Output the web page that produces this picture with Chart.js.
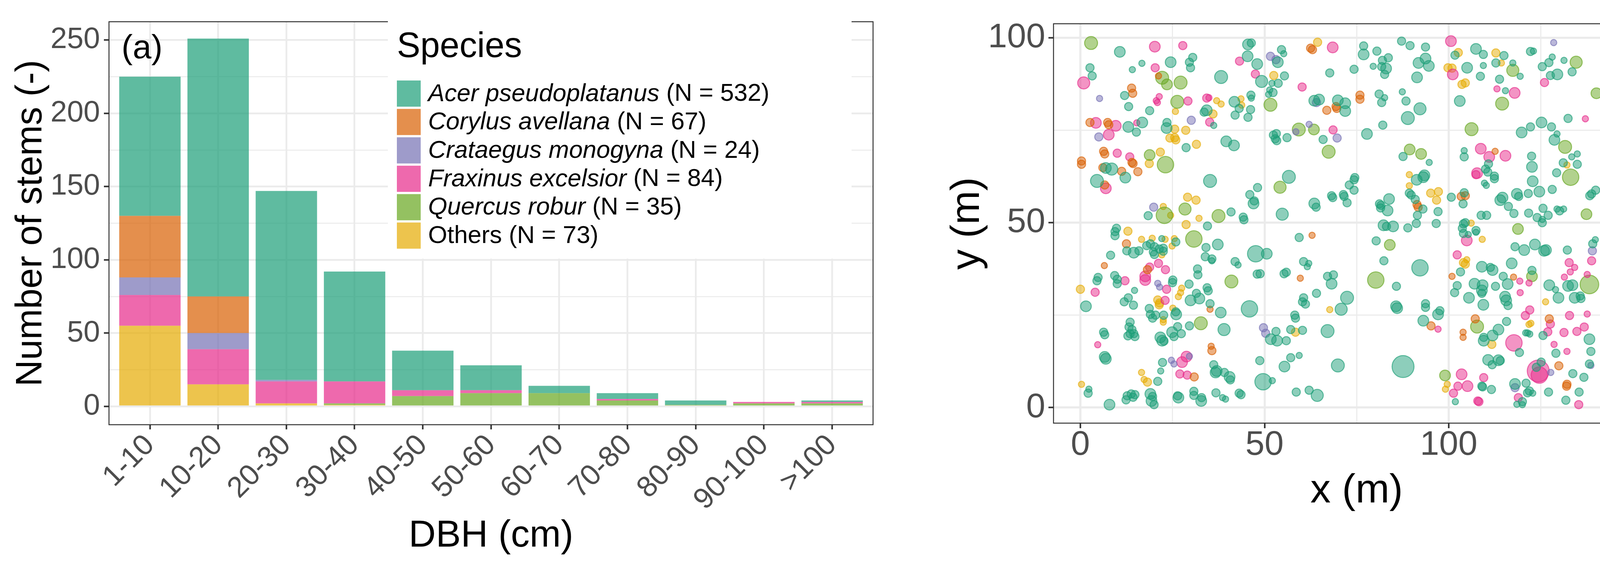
<!DOCTYPE html>
<html>
<head>
<meta charset="utf-8">
<script src="https://cdn.jsdelivr.net/npm/chart.js@4.4.1/dist/chart.umd.min.js"></script>
<style>
html, body { margin: 0; padding: 0; background: #fff; }
body { width: 4285px; height: 1464px; position: relative; overflow: hidden; }
#wrapA { position: absolute; left: 0; top: 0; width: 2261px; height: 1464px; }
#wrapB { position: absolute; left: 2380px; top: 0; width: 1905px; height: 1464px; }
</style>
</head>
<body>
<div id="wrapA"><canvas id="stemsChart"></canvas></div>
<div id="wrapB"><canvas id="mapChart"></canvas></div>
<script>
// ---- data (a): number of stems per DBH class and species
const dbhClasses = ['1-10', '10-20', '20-30', '30-40', '40-50', '50-60', '60-70', '70-80', '80-90', '90-100', '>100'];
const species = ['Acer pseudoplatanus', 'Corylus avellana', 'Crataegus monogyna', 'Fraxinus excelsior', 'Quercus robur', 'Others'];
const speciesN = [532, 67, 24, 84, 35, 73];
const stemsAcer      = [95, 176, 129, 75, 27, 17, 5, 4, 3, 0, 1];
const stemsCorylus   = [42, 25, 0, 0, 0, 0, 0, 0, 0, 0, 0];
const stemsCrataegus = [12, 11, 1, 0, 0, 0, 0, 0, 0, 0, 0];
const stemsFraxinus  = [21, 24, 15, 15, 4, 2, 0, 1, 0, 1, 1];
const stemsQuercus   = [0, 0, 0, 1, 7, 9, 9, 4, 1, 2, 2];
const stemsOthers    = [55, 15, 2, 1, 0, 0, 0, 0, 0, 0, 0];
const stemTicks = [0, 25, 50, 75, 100, 125, 150, 175, 200, 225, 250];

// ---- data (b): stem map, [x (m), y (m), DBH (cm)]
const treesAcer = [
[45.5,98.2,18],[46.4,98.6,8],[54.6,96.8,8],[55.2,95.7,3],[10.7,96.2,18],[2.6,91.9,8],[3.2,89.7,8],[14.1,91.4,3],[16.7,93.1,3],[24.5,93.4,18],
[30.5,94.7,8],[29.6,93.4,8],[29.9,91.9,8],[38.2,89.4,30],[45.4,95.0,18],[48.0,92.9,18],[53.6,93.4,18],[55.4,89.7,8],[49.2,88.2,25],[52.0,87.7,3],
[53.7,87.7,8],[67.7,90.5,8],[74.3,91.5,8],[12.0,84.4,8],[13.1,81.4,8],[18.8,80.3,8],[34.3,80.4,18],[33.6,79.9,8],[41.8,82.7,18],[43.1,80.9,8],
[46.2,80.6,8],[42.0,79.1,8],[45.5,78.5,8],[46.3,84.5,8],[46.4,83.7,3],[51.4,85.9,3],[52.3,85.2,8],[51.1,84.7,3],[63.5,83.0,18],[64.8,83.3,18],
[69.9,83.1,18],[71.9,82.3,18],[71.9,80.2,18],[13.0,75.9,18],[16.8,77.1,18],[15.2,74.5,8],[23.5,77.1,8],[23.4,75.6,18],[36.2,76.3,3],[28.7,70.3,8],
[39.6,72.0,18],[41.7,70.9,18],[52.4,73.7,8],[53.2,74.1,8],[52.9,72.7,8],[53.3,72.2,8],[56.1,73.0,8],[65.9,72.5,8],[6.9,64.8,18],[8.5,64.5,25],
[4.5,61.3,30],[12.2,62.2,18],[35.2,61.3,30],[56.6,62.4,30],[48.1,59.5,8],[46.0,57.6,8],[47.2,55.9,8],[47.0,55.2,18],[74.5,62.2,8],[74.3,61.6,8],
[73.0,60.2,8],[74.3,58.8,8],[68.2,57.3,8],[68.5,56.8,8],[71.4,57.6,8],[71.6,57.1,8],[72.4,55.4,8],[63.5,55.2,18],[64.0,54.2,8],[18.4,51.9,8],
[40.9,52.9,8],[44.2,51.5,8],[44.4,50.8,8],[54.8,52.3,25],
[87.2,99.1,8],[89.5,97.9,8],[93.7,97.5,8],[76.9,97.8,8],[76.9,95.5,18],[80.5,96.4,8],[101.7,95.3,8],[107.4,97.0,18],[109.4,95.5,8],[115.0,95.2,8],
[122.2,96.3,8],[123.0,96.4,3],[128.1,94.8,3],[127.2,93.3,8],[125.4,92.2,8],[131.3,93.9,3],[133.5,90.8,8],[127.6,89.8,8],[129.5,90.1,18],[117.4,93.2,3],
[119.4,89.6,3],[112.8,93.2,8],[109.4,92.5,3],[108.6,89.6,8],[113.8,88.8,8],[105.0,91.9,18],[115.4,85.7,3],[79.5,92.3,3],[82.0,93.9,8],[81.8,92.2,8],
[83.0,91.7,18],[82.6,90.1,8],[83.6,94.6,8],[91.8,93.2,18],[93.7,94.4,18],[94.6,92.4,18],[91.4,89.3,18],[81.1,84.8,8],[82.6,83.8,3],[81.8,82.5,8],
[87.4,85.4,3],[88.4,82.9,8],[92.2,80.8,25],[88.9,78.3,30],[103.0,82.9,18],[82.1,76.4,8],[77.8,74.0,18],[132.4,78.2,8],[125.2,77.1,18],[122.2,75.9,8],
[127.9,75.9,8],[119.8,74.4,18],[129.4,74.0,3],[128.7,72.4,18],[133.4,67.8,3],[134.9,68.6,3],[131.1,66.2,8],[134.9,65.8,8],[129.3,63.5,8],[122.8,61.2,18],
[122.5,68.0,8],[122.6,65.1,18],[128.1,59.0,8],[124.6,58.4,18],[121.6,57.9,8],[118.5,57.8,18],[119.0,57.1,8],[138.8,57.8,8],[139.9,58.8,8],[138.3,57.3,8],
[114.6,56.8,18],[114.0,56.1,18],[116.2,54.4,8],[117.7,52.5,8],[121.7,52.6,8],[124.0,51.4,8],[125.4,50.9,3],[125.6,53.9,8],[127.0,52.0,8],[129.4,53.7,3],
[131.2,53.7,3],[130.1,53.2,8],[108.8,52.0,8],[110.3,52.0,8],[104.2,69.5,3],[104.2,67.8,8],[110.8,65.9,8],[110.0,64.5,8],[110.6,63.7,8],[112.4,62.6,8],
[112.4,61.9,8],[109.7,60.7,3],[110.2,60.1,3],[104.2,58.1,8],[100.7,56.9,8],[103.9,55.1,8],[93.4,62.8,18],[93.1,62.3,18],[91.3,61.6,18],[87.6,67.9,8],
[94.7,66.3,3],[89.3,58.0,8],[89.8,57.5,8],[90.9,56.3,8],[93.0,53.7,8],[97.1,53.0,8],[91.5,52.0,8],[81.2,55.1,8],[81.6,54.7,8],[83.8,56.4,18],
[83.4,53.3,18],[81.5,54.0,8],
[9.8,48.5,8],[9.4,47.6,8],[9.4,46.5,8],[22.1,45.7,3],[25.9,44.8,8],[12.6,42.4,8],[14.5,41.9,18],[15.9,42.4,8],[18.0,43.8,8],[19.0,44.3,8],
[20.1,43.5,8],[19.8,42.1,8],[20.1,41.4,8],[21.4,42.9,8],[22.5,43.1,8],[22.5,42.3,8],[8.2,41.2,8],[34.5,49.1,8],[34.1,43.3,8],[37.3,44.1,18],
[33.9,40.8,8],[35.7,40.2,8],[35.7,39.7,3],[47.6,41.6,55],[50.6,41.6,18],[42.0,39.5,8],[42.8,38.6,3],[60.6,39.5,8],[62.0,39.0,3],[61.6,38.1,3],
[59.4,46.0,8],[31.8,37.5,8],[31.9,35.9,8],[4.8,35.2,8],[4.5,34.3,8],[9.3,35.7,8],[10.0,34.7,8],[10.0,33.5,8],[25.1,34.5,8],[25.0,33.8,8],
[29.5,33.4,8],[48.0,36.1,8],[48.8,36.2,8],[55.3,36.2,8],[55.9,36.6,8],[67.1,35.5,8],[68.7,35.9,8],[68.2,33.5,18],[14.7,31.7,3],[34.4,32.4,8],
[34.7,31.6,8],[31.5,30.9,8],[32.3,29.5,18],[29.9,29.0,18],[13.0,29.7,8],[11.9,28.6,8],[14.4,27.7,8],[1.5,27.4,18],[45.9,26.7,55],[35.2,28.1,8],
[38.1,25.7,18],[25.9,25.9,8],[26.0,25.2,18],[18.7,26.8,8],[19.0,25.2,8],[19.6,24.2,8],[20.4,25.0,8],[22.6,25.0,8],[72.4,29.7,30],[70.8,26.6,25],
[64.1,30.9,8],[60.6,29.7,8],[60.3,28.6,8],[61.1,28.0,8],[58.2,25.0,8],[58.4,24.2,8],[13.5,23.1,8],[13.2,21.8,8],[14.0,21.1,8],[14.5,20.0,8],
[13.5,20.0,8],[12.9,19.4,8],[14.8,19.2,8],[6.3,20.4,8],[6.6,19.7,8],[26.4,21.9,8],[29.6,22.1,8],[24.9,20.4,18],[27.4,20.0,8],[25.4,19.2,8],
[21.7,19.0,18],[22.2,18.1,18],[22.7,18.0,8],[39.0,21.1,25],[53.1,20.6,8],[51.7,18.5,18],[53.4,18.1,18],[55.9,18.1,8],[57.1,21.1,8],[60.3,20.9,8],
[67.1,20.7,30],[6.6,13.7,18],[6.9,13.2,18],[22.3,12.2,8],[21.8,9.9,3],[36.2,11.6,8],[37.0,9.9,18],[36.7,9.5,18],[39.1,9.5,8],[40.5,8.3,18],
[40.7,7.5,8],[21.0,7.1,8],[48.7,12.7,8],[55.4,11.1,18],[57.1,13.5,8],[59.4,14.1,3],[69.9,11.4,30],[49.6,7.0,55],[52.1,7.3,3],[2.3,5.0,3],
[2.1,3.9,8],[58.6,4.2,8],[62.1,4.7,8],[64.3,3.3,25],[13.8,3.7,8],[12.7,3.2,8],[12.4,2.1,8],[14.3,2.8,8],[14.8,3.5,8],[7.9,0.8,18],
[19.0,3.7,18],[19.6,3.0,8],[19.3,1.8,18],[20.0,0.8,8],[26.4,3.2,8],[26.6,2.7,18],[30.8,4.4,8],[30.8,3.3,8],[32.9,2.7,8],[32.8,1.8,18],
[36.8,4.0,8],[38.6,2.7,3],[39.4,2.3,3],[43.1,3.9,8],[43.6,3.5,8],
[82.3,49.3,18],[83.1,49.0,8],[84.9,49.0,18],[88.9,48.6,8],[91.2,49.8,8],[96.6,49.8,8],[104.0,49.7,8],[104.5,50.0,8],[103.7,48.5,8],[104.0,47.1,8],
[105.3,46.8,3],[107.4,47.9,8],[107.4,47.4,3],[125.4,50.0,8],[80.3,45.1,8],[118.0,43.5,8],[120.5,42.6,18],[123.4,44.1,18],[125.9,42.4,18],[126.4,42.6,18],
[132.2,42.6,8],[139.1,44.3,8],[139.8,45.4,3],[82.4,39.7,8],[92.2,37.8,55],[85.8,32.8,8],[117.1,39.0,18],[109.0,38.1,18],[111.3,37.9,8],[111.9,37.2,18],
[103.2,36.7,8],[114.8,35.5,8],[122.6,37.1,8],[102.3,33.0,8],[101.6,31.1,8],[107.0,33.5,18],[109.2,33.1,18],[109.0,31.7,18],[109.0,30.9,8],[112.7,32.8,8],
[116.0,33.4,18],[127.3,33.1,18],[129.0,31.9,3],[132.4,32.9,18],[133.6,33.1,18],[105.5,29.7,18],[109.4,27.8,18],[115.3,30.0,18],[116.1,27.6,8],[115.6,29.0,18],
[129.8,29.7,18],[134.2,29.7,18],[135.7,30.2,8],[135.9,29.5,8],[85.7,27.4,18],[86.0,26.9,18],[93.7,28.1,8],[93.7,27.1,8],[97.6,26.2,8],[97.1,25.2,18],
[93.1,23.5,18],[115.7,23.3,8],[113.5,21.1,18],[111.9,19.5,18],[109.5,19.0,8],[109.5,18.1,18],[121.4,20.2,3],[122.0,19.9,3],[120.9,20.2,3],[125.6,19.5,8],
[138.2,18.5,18],[119.2,14.9,8],[129.1,14.7,8],[138.6,15.2,8],[87.6,11.1,110],[110.7,12.9,18],[113.5,12.8,18],[111.8,11.6,8],[114.0,12.7,8],[125.1,12.3,8],
[123.8,10.9,8],[138.2,11.8,8],[133.7,9.2,8],[136.7,8.2,8],[101.8,1.6,3],[109.0,5.8,8],[109.2,5.6,8],[111.6,4.9,8],[118.0,6.4,18],[121.0,6.6,8],
[121.9,4.5,8],[121.4,4.0,8],[122.8,3.9,3],[120.0,1.6,8],[118.5,0.9,3],[120.0,0.8,3],[127.1,4.2,8],[135.4,4.2,8],[131.8,2.0,8]
];
const treesCorylus = [
[62.5,97.2,8],[63.0,96.8,8],[21.2,89.7,3],[13.9,86.4,8],[14.2,85.0,8],[66.9,80.4,8],[69.4,81.4,8],[69.6,80.9,8],[2.6,77.1,8],[7.4,77.1,8],
[7.7,76.5,8],[6.3,69.3,8],[6.6,68.6,8],[14.0,66.3,8],[14.3,66.0,8],[0.3,66.7,8],[0.3,65.8,8],[6.1,64.9,8],[11.2,63.9,8],[15.6,63.8,8],
[6.6,60.2,8],[75.9,84.5,8],[75.9,83.4,8],[112.6,69.3,3],[103.4,57.1,8],[104.5,57.3,8],[91.4,54.9,8],[91.7,54.2,8],[12.5,44.3,8],[62.9,46.6,3],
[6.5,38.4,3],[18.2,37.3,8],[59.7,35.0,3],[35.2,26.6,3],[35.5,16.6,3],[35.7,15.4,8],[30.9,8.3,8],[100.9,35.5,3],[117.6,35.3,3],[95.2,22.1,8],
[107.2,24.0,8],[127.3,24.0,8],[103.9,20.4,3],[103.9,19.0,3],[129.9,11.3,8],[132.1,6.3,8],[132.0,5.8,8]
];
const treesCrataegus = [
[51.6,95.0,8],[53.1,94.1,8],[5.2,83.6,3],[64.1,82.5,8],[30.1,77.7,8],[5.0,73.2,8],[58.5,74.6,3],[62.1,76.6,3],[69.7,72.9,8],[19.9,54.2,8],
[128.5,98.7,3],[21.0,33.6,3],[21.5,32.6,3],[29.6,13.9,3],[24.7,12.8,3],[25.4,11.8,3],[49.7,21.6,8],[50.3,20.1,8],[139.0,42.4,8],[127.7,9.5,3],
[138.6,11.4,3],[118.0,5.4,8]
];
const treesFraxinus = [
[20.2,97.6,18],[27.8,97.9,8],[68.5,97.4,18],[0.9,87.8,25],[20.3,91.9,8],[43.2,93.7,8],[47.5,90.2,8],[60.2,86.7,8],[21.4,84.1,3],[20.6,83.0,3],
[20.9,82.5,3],[29.2,82.9,8],[34.3,83.7,8],[34.9,83.8,3],[4.2,77.0,18],[9.6,76.2,18],[15.3,77.0,3],[7.7,73.8,18],[35.1,77.2,8],[68.6,75.1,8],
[10.0,68.8,8],[13.4,67.8,8],[6.9,59.3,18],[100.6,99.1,18],[126.0,87.9,8],[101.1,90.1,18],[113.1,86.2,3],[117.9,85.1,18],[137.1,78.1,3],[108.7,70.0,18],
[111.0,67.8,18],[115.4,68.1,18],[107.7,63.4,18],[107.4,63.0,8],[21.2,39.0,8],[23.1,37.3,8],[18.8,38.0,8],[17.6,35.5,18],[17.6,34.5,18],[12.1,34.3,8],
[23.4,32.0,8],[4.0,31.2,8],[23.0,29.0,8],[4.7,17.0,3],[28.8,13.8,18],[27.6,12.3,18],[27.0,9.1,8],[29.0,8.8,8],[104.9,45.2,18],[102.3,41.3,8],
[119.3,34.2,3],[121.8,33.7,3],[119.4,31.1,3],[137.6,36.0,3],[131.4,35.3,3],[133.0,36.7,3],[134.2,37.9,3],[132.7,39.2,8],[138.8,39.7,8],[97.1,21.2,3],
[122.0,26.4,8],[120.8,24.9,8],[132.8,24.9,8],[137.6,25.3,3],[127.6,22.6,8],[126.9,20.5,8],[131.3,20.3,8],[134.8,20.6,8],[136.8,21.8,8],[117.7,17.5,55],
[128.6,17.1,3],[132.1,15.2,3],[124.3,9.9,110],[124.6,8.8,55],[103.5,9.0,18],[109.5,8.1,8],[102.5,5.8,8],[105.1,5.8,18],[101.3,3.9,8],[107.9,1.8,8],
[108.2,1.6,8],[118.9,2.7,8],[135.3,0.8,8]
];
const treesQuercus = [
[2.9,98.6,30],[22.2,89.2,30],[23.5,87.4,18],[27.2,87.9,30],[26.3,82.7,30],[51.6,81.9,30],[59.3,75.2,30],[63.4,75.2,18],[67.4,69.2,30],[18.8,68.3,18],
[23.1,65.7,55],[54.2,59.6,25],[28.4,53.7,25],[22.8,52.0,55],[37.5,51.8,30],[134.6,93.4,25],[117.4,91.2,25],[140.1,85.0,18],[114.5,82.2,30],[106.2,75.3,30],
[131.6,70.5,30],[133.1,62.3,55],[89.4,69.8,18],[92.5,68.6,18],[137.4,52.3,18],[30.8,45.6,55],[41.0,34.1,30],[32.7,22.8,30],[118.8,48.3,18],[84.0,44.0,18],
[80.2,34.5,55],[122.6,35.5,18],[138.2,33.3,75],[107.7,21.9,30],[99.0,8.7,18]
];
const treesOthers = [
[64.4,98.8,8],[52.5,89.8,8],[25.8,80.1,3],[37.0,83.0,3],[38.2,82.1,3],[36.0,79.4,8],[43.6,83.5,3],[43.8,81.8,3],[25.6,75.3,8],[28.6,75.0,8],
[24.3,72.9,8],[25.6,73.0,8],[25.9,72.4,8],[31.5,71.2,8],[21.7,69.1,8],[18.7,66.0,8],[29.1,56.9,8],[31.4,56.1,8],[22.5,54.4,3],[24.5,52.0,3],
[32.2,51.2,3],[102.6,96.0,8],[112.8,95.9,8],[114.3,93.2,3],[99.8,91.9,8],[100.9,91.8,8],[103.6,87.4,8],[104.5,87.8,8],[132.1,65.6,3],[89.3,63.0,3],
[89.3,60.0,3],[95.1,58.0,8],[97.2,58.4,8],[96.7,56.1,8],[12.9,47.7,8],[16.6,45.5,3],[19.5,45.8,3],[23.0,45.5,3],[25.5,45.7,3],[24.9,43.7,3],
[28.7,49.5,8],[22.1,41.3,3],[0.0,32.0,8],[27.5,32.3,3],[27.2,31.1,3],[26.6,30.0,3],[21.0,29.1,8],[21.5,28.3,8],[21.4,27.8,8],[25.1,26.9,3],
[22.5,23.8,3],[22.5,23.1,3],[67.7,26.5,3],[58.4,20.4,8],[16.6,9.5,3],[17.3,7.6,3],[18.2,6.9,8],[0.3,6.3,3],[106.1,49.9,3],[109.1,45.5,3],
[104.0,39.2,8],[104.9,40.0,3],[104.5,38.8,8],[126.3,28.6,3],[121.8,22.5,3],[122.3,22.8,3],[111.7,17.1,8],[99.6,6.3,3],[99.1,5.0,3]
];
const mapTicks = [0, 25, 50, 75, 100, 125, 150];

// ---- styling
const dark2 = [[27,158,119],[217,95,2],[117,112,179],[231,41,138],[102,166,30],[230,171,2]];
const rgba = (c, a) => `rgba(${c[0]},${c[1]},${c[2]},${a})`;
const FONT = "'Liberation Sans', Arial, sans-serif";
Chart.defaults.font.family = FONT;
Chart.defaults.color = '#4d4d4d';

const stemsSeries = [stemsAcer, stemsCorylus, stemsCrataegus, stemsFraxinus, stemsQuercus, stemsOthers];
const treeSeries = [treesAcer, treesCorylus, treesCrataegus, treesFraxinus, treesQuercus, treesOthers];

// stem size grows with DBH
function dbhRadius(d) {
  return 4 + 2.3 * Math.sqrt(d);
}

const isMajor = v => v % 50 === 0;

// ggplot-like grid: thick major lines, thin minor lines, ticks on majors only
function bwGrid(major, minor) {
  return {
    color: '#ebebeb',
    lineWidth: c => (c.tick && isMajor(c.tick.value)) ? major : minor,
    tickLength: 13, tickWidth: 4,
    tickColor: c => (c.tick && isMajor(c.tick.value)) ? '#333333' : 'rgba(0,0,0,0)'
  };
}

// panel border + panel tag
const panelFrame = {
  id: 'panelFrame',
  afterDraw(chart, args, opts) {
    const {ctx, chartArea: a} = chart;
    ctx.save();
    ctx.strokeStyle = '#333333';
    ctx.lineWidth = 2.5;
    ctx.strokeRect(a.left, a.top, a.right - a.left, a.bottom - a.top);
    ctx.fillStyle = '#000';
    ctx.font = `${opts.size}px ${FONT}`;
    ctx.textBaseline = 'middle';
    ctx.textAlign = opts.align;
    const x = opts.align === 'left' ? a.left + opts.dx : a.right - opts.dx;
    ctx.fillText(opts.tag, x, a.top + opts.dy);
    ctx.restore();
  }
};

// legend inside panel (a), species names in italics
const speciesLegend = {
  id: 'speciesLegend',
  afterDraw(chart) {
    const ctx = chart.ctx;
    ctx.save();
    ctx.fillStyle = '#fff';
    ctx.fillRect(993, 42, 1187, 620);
    ctx.fillStyle = '#000';
    ctx.textBaseline = 'alphabetic';
    ctx.textAlign = 'left';
    ctx.font = `90px ${FONT}`;
    ctx.fillText('Species', 1016, 146);
    ctx.textBaseline = 'middle';
    species.forEach((name, i) => {
      const y0 = 206 + i * 72.7;
      ctx.fillStyle = rgba(dark2[i], 0.7);
      ctx.fillRect(1016, y0, 61, 67);
      ctx.fillStyle = '#000';
      let x = 1096;
      const cy = y0 + 35;
      if (name !== 'Others') {
        ctx.font = `italic 63px ${FONT}`;
        ctx.fillText(name, x, cy);
        x += ctx.measureText(name).width;
        ctx.font = `63px ${FONT}`;
        ctx.fillText(` (N = ${speciesN[i]})`, x, cy);
      } else {
        ctx.font = `63px ${FONT}`;
        ctx.fillText(`${name} (N = ${speciesN[i]})`, x, cy);
      }
    });
    ctx.restore();
  }
};

// ---- chart (a)
const barSets = [];
for (let i = species.length - 1; i >= 0; i--) {
  barSets.push({
    label: species[i],
    data: stemsSeries[i].map((v, k) => ({x: k, y: v})),
    backgroundColor: rgba(dark2[i], 0.7),
    borderWidth: 0
  });
}

new Chart(document.getElementById('stemsChart'), {
  type: 'bar',
  data: {datasets: barSets},
  options: {
    responsive: true,
    maintainAspectRatio: false,
    animation: false,
    devicePixelRatio: 1,
    layout: {padding: {top: 38, right: 26, bottom: 0, left: 0}},
    datasets: {bar: {categoryPercentage: 1, barPercentage: 0.9}},
    plugins: {
      legend: {display: false},
      tooltip: {enabled: false},
      panelFrame: {tag: '(a)', align: 'left', dx: 32, dy: 70, size: 86}
    },
    scales: {
      x: {
        type: 'linear', min: -0.6, max: 10.6, offset: false, stacked: true,
        afterBuildTicks: s => { s.ticks = dbhClasses.map((c, i) => ({value: i})); },
        afterFit: s => { s.height = 377; },
        ticks: {autoSkip: false, minRotation: 45, maxRotation: 45, padding: 2,
                font: {size: 75, lineHeight: 1}, color: '#4d4d4d', callback: v => dbhClasses[v]},
        grid: {color: '#ebebeb', lineWidth: 4.5, tickLength: 12, tickWidth: 4, tickColor: '#333333', offset: false},
        border: {display: false},
        title: {display: true, text: 'DBH (cm)', color: '#000', font: {size: 96}, padding: {top: 0, bottom: 34}}
      },
      y: {
        min: -12.5, max: 262.5, stacked: true,
        afterBuildTicks: s => { s.ticks = stemTicks.map(v => ({value: v})); },
        afterFit: s => { s.width = 279; },
        ticks: {padding: 10, font: {size: 76}, color: '#4d4d4d', callback: v => isMajor(v) ? String(v) : ''},
        grid: bwGrid(4.5, 2.5),
        border: {display: false},
        title: {display: true, text: 'Number of stems (-)', color: '#000', font: {size: 94}, padding: {top: 24, bottom: 0}}
      }
    }
  },
  plugins: [panelFrame, speciesLegend]
});

// ---- chart (b)
const mapSets = species.map((name, i) => ({
  label: name,
  data: treeSeries[i].map(t => ({x: t[0], y: t[1], r: dbhRadius(t[2])})),
  backgroundColor: rgba(dark2[i], 0.5),
  borderColor: rgba(dark2[i], 0.65),
  borderWidth: 2.5
}));

new Chart(document.getElementById('mapChart'), {
  type: 'bubble',
  data: {datasets: mapSets},
  options: {
    responsive: true,
    maintainAspectRatio: false,
    animation: false,
    devicePixelRatio: 1,
    layout: {padding: {top: 38, right: 36, bottom: 0, left: 0}},
    plugins: {
      legend: {display: false},
      tooltip: {enabled: false},
      panelFrame: {tag: '(b)', align: 'right', dx: 22, dy: 60, size: 89}
    },
    scales: {
      x: {
        type: 'linear', min: -7.3, max: 157.3,
        afterBuildTicks: s => { s.ticks = mapTicks.map(v => ({value: v})); },
        afterFit: s => { s.height = 381; },
        ticks: {padding: 0, font: {size: 88, lineHeight: 1}, color: '#4d4d4d', maxRotation: 0, callback: v => isMajor(v) ? String(v) : ''},
        grid: bwGrid(5.5, 2.8),
        border: {display: false},
        title: {display: true, text: 'x (m)', color: '#000', font: {size: 104}, padding: {top: 0, bottom: 144}}
      },
      y: {
        type: 'linear', min: -4.2, max: 103.8,
        afterBuildTicks: s => { s.ticks = mapTicks.filter(v => v <= 100).map(v => ({value: v})); },
        afterFit: s => { s.width = 317; },
        ticks: {padding: 8, font: {size: 88}, color: '#4d4d4d', callback: v => isMajor(v) ? String(v) : ''},
        grid: bwGrid(5.5, 2.8),
        border: {display: false},
        title: {display: true, text: 'y (m)', color: '#000', font: {size: 104}, padding: {top: 35, bottom: 0}}
      }
    }
  },
  plugins: [panelFrame]
});
</script>
</body>
</html>
